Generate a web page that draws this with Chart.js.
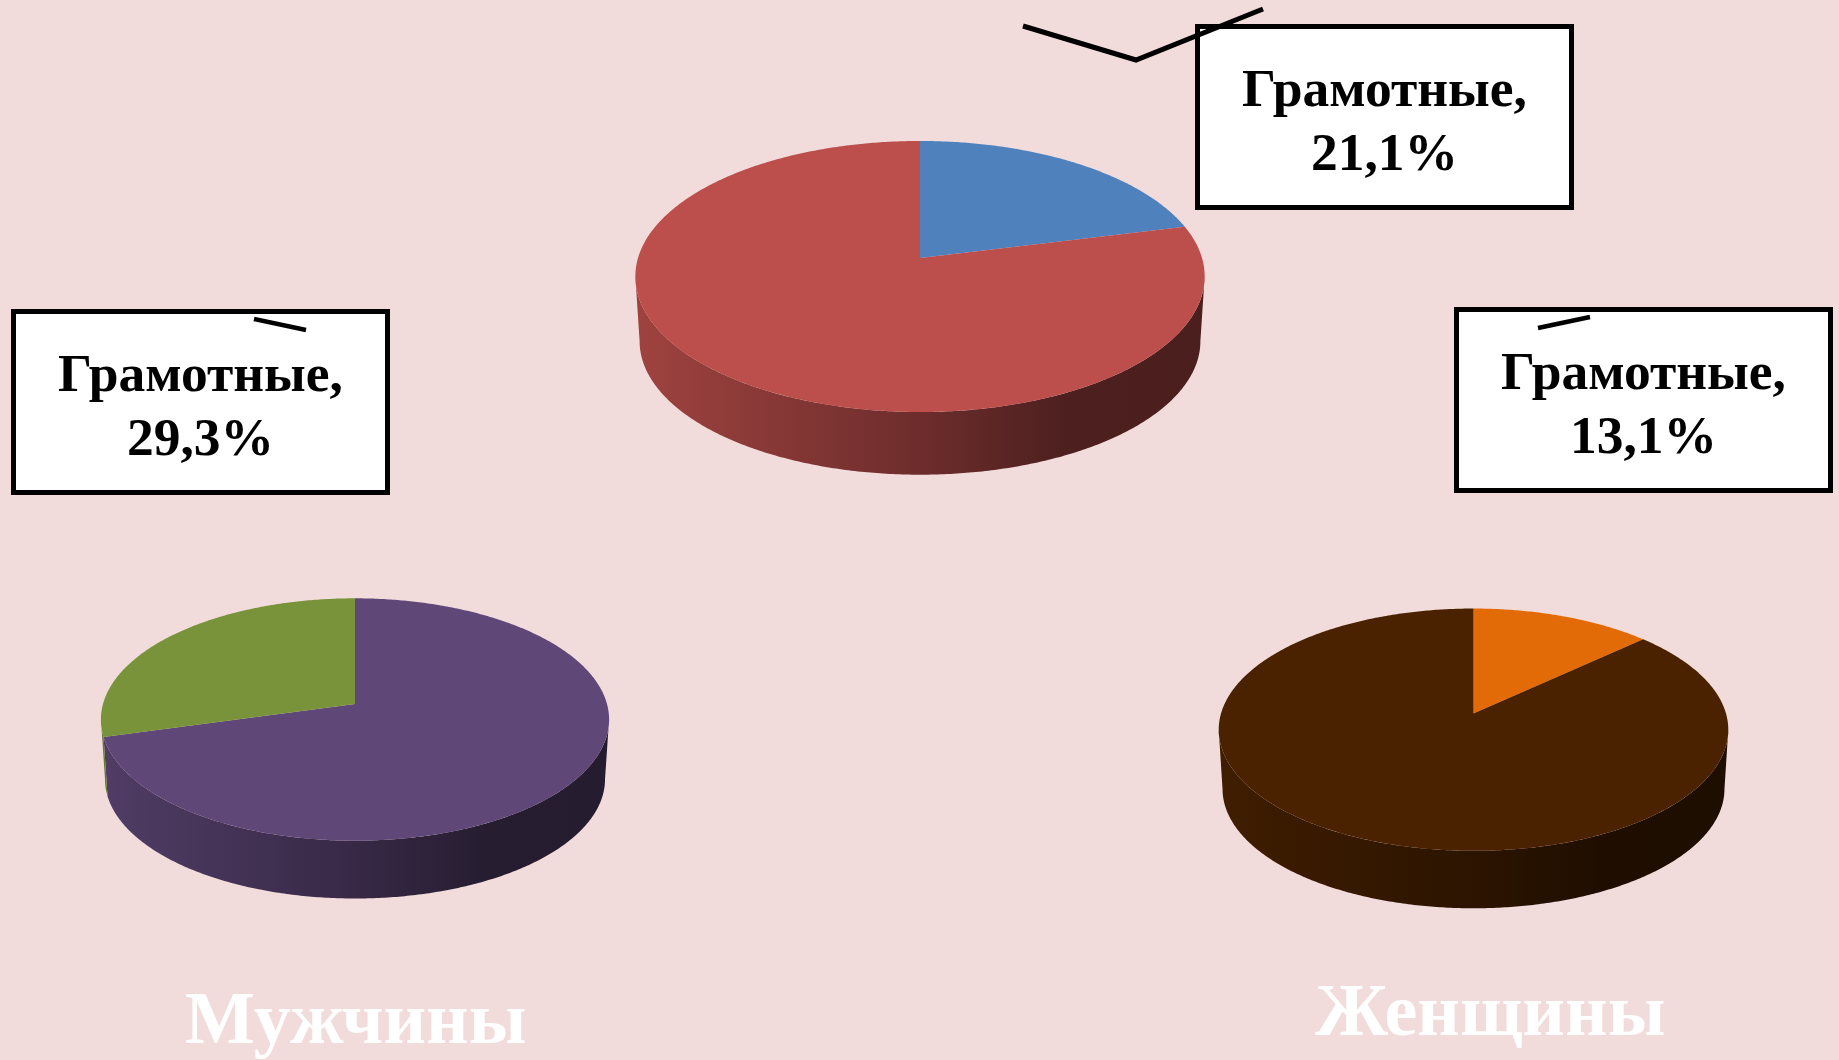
<!DOCTYPE html>
<html lang="ru">
<head>
<meta charset="utf-8">
<title>Грамотные</title>
<script src="https://cdn.jsdelivr.net/npm/chart.js@4/dist/chart.umd.min.js"></script>
<style>
    html, body { margin: 0; padding: 0; width: 1839px; height: 1060px; overflow: hidden; background: #F2DCDB; }
    canvas { position: absolute; }
    .callout {
        position: absolute; box-sizing: border-box; width: 379px; height: 186px;
        background: #fff; border: 5px solid #000; color: #000;
        font: bold 53.5px/64px "Liberation Serif", serif; text-align: center; padding-top: 27px;
    }
    .caption {
        position: absolute; color: #fff; white-space: nowrap; text-align: center;
        font: bold 74px/84px "Liberation Serif", serif;
    }
    svg { position: absolute; left: 0; top: 0; }
</style>
</head>
<body>
<canvas id="pieAll"></canvas>
<canvas id="pieMen"></canvas>
<canvas id="pieWomen"></canvas>

<div class="callout" id="calloutAll" style="left:1195px; top:24px"></div>
<div class="callout" id="calloutMen" style="left:11px; top:309px"></div>
<div class="callout" id="calloutWomen" style="left:1454px; top:307px"></div>

<div class="caption" id="captionMen" style="left:185px; top:976px; width:341px"></div>
<div class="caption" id="captionWomen" style="left:1315px; top:968px; width:349px"></div>

<svg width="1839" height="1060" fill="none" stroke="#000" stroke-width="5">
    <polyline points="1023,26 1136,60 1263,9"/>
    <line x1="254" y1="319" x2="306" y2="330" stroke-width="4.5"/>
    <line x1="1538" y1="328" x2="1590" y2="317" stroke-width="4.5"/>
</svg>

<script>
// Values (percent)
const categories = ['Грамотные', 'Неграмотные'];
const allValues = [21.1, 78.9];
const menValues = [29.3, 70.7];
const womenValues = [13.1, 86.9];

const calloutTitle = 'Грамотные,';
const menCaption = 'Мужчины';
const womenCaption = 'Женщины';

// Turn a decimal value into the label form used on the slide, e.g. 21,1%
function percentText(value) {
    return String(value).replace('.', ',') + '%';
}

document.getElementById('calloutAll').innerHTML = calloutTitle + '<br>' + percentText(allValues[0]);
document.getElementById('calloutMen').innerHTML = calloutTitle + '<br>' + percentText(menValues[0]);
document.getElementById('calloutWomen').innerHTML = calloutTitle + '<br>' + percentText(womenValues[0]);
document.getElementById('captionMen').textContent = menCaption;
document.getElementById('captionWomen').textContent = womenCaption;

const PADDING = 10;

// Project a chart angle on to the tilted disc (k gives the perspective)
function project(el, pie, angle, scale, drop) {
    const d = 1 + pie.k * Math.sin(angle);
    return [
        el.x + scale * el.outerRadius * Math.cos(angle) / d,
        el.y + drop + scale * pie.height * Math.sin(angle) / d
    ];
}

function traceCurve(ctx, el, pie, from, to, scale, drop) {
    const steps = Math.max(2, Math.ceil(Math.abs(to - from) / 0.01));
    for (let i = 0; i <= steps; i++) {
        const p = project(el, pie, from + (to - from) * i / steps, scale, drop);
        ctx.lineTo(p[0], p[1]);
    }
}

function shade(hex, factor) {
    const n = parseInt(hex.slice(1), 16);
    const r = Math.round((n >> 16) * factor);
    const g = Math.round(((n >> 8) & 255) * factor);
    const b = Math.round((n & 255) * factor);
    return `rgb(${r}, ${g}, ${b})`;
}

// Draws the library's arcs as a tilted 3D disc instead of flat circle slices
const discPlugin = {
    id: 'disc',
    beforeDatasetDraw(chart, args, opts) {
        const ctx = chart.ctx;
        const pie = opts.pie;
        const arcs = chart.getDatasetMeta(0).data;
        const wallFrom = Math.asin(-pie.k);
        const wallTo = Math.PI - wallFrom;

        // side wall first
        arcs.forEach(el => {
            const a0 = Math.max(el.startAngle, wallFrom);
            const a1 = Math.min(el.endAngle, wallTo);
            if (a1 <= a0) return;
            const halfWidth = el.outerRadius * pie.wallScale;
            const grad = ctx.createLinearGradient(el.x - halfWidth, 0, el.x + halfWidth, 0);
            const color = el.options.backgroundColor;
            grad.addColorStop(0, shade(color, 0.84));
            grad.addColorStop(0.5, shade(color, 0.58));
            grad.addColorStop(0.76, shade(color, 0.41));
            grad.addColorStop(1, shade(color, 0.4));
            ctx.beginPath();
            traceCurve(ctx, el, pie, a0, a1, 1, 0);
            traceCurve(ctx, el, pie, a1, a0, pie.wallScale, pie.depth);
            ctx.closePath();
            ctx.fillStyle = grad;
            ctx.fill();
        });

        // top face
        arcs.forEach(el => {
            ctx.beginPath();
            ctx.moveTo(el.x, el.y);
            traceCurve(ctx, el, pie, el.startAngle, el.endAngle, 1, 0);
            ctx.closePath();
            ctx.fillStyle = el.options.backgroundColor;
            ctx.fill();
        });
        return false;
    }
};

function makePie(id, values, colors, pie) {
    const canvas = document.getElementById(id);
    const size = 2 * (pie.radius + PADDING);
    canvas.width = size;
    canvas.height = size;
    canvas.style.left = (pie.cx - size / 2) + 'px';
    canvas.style.top = (pie.cy - size / 2) + 'px';
    return new Chart(canvas.getContext('2d'), {
        type: 'pie',
        data: {
            labels: categories,
            datasets: [{ data: values, backgroundColor: colors, borderWidth: 0, hoverOffset: 0 }]
        },
        options: {
            responsive: false,
            animation: false,
            layout: { padding: PADDING },
            events: [],
            plugins: {
                legend: { display: false },
                tooltip: { enabled: false },
                disc: { pie: pie }
            }
        },
        plugins: [discPlugin]
    });
}

makePie('pieAll', allValues, ['#4F81BD', '#BC4E4B'],
    { cx: 920.5, cy: 258, radius: 282.4, height: 133, k: -0.1364, wallScale: 0.985, depth: 65 });
makePie('pieMen', menValues.slice().reverse(), ['#5F4778', '#789339'],
    { cx: 354.5, cy: 704, radius: 252, height: 119.2, k: -0.128, wallScale: 0.984, depth: 60 });
makePie('pieWomen', womenValues, ['#E26B08', '#4B2200'],
    { cx: 1473.6, cy: 713.3, radius: 252.7, height: 119, k: -0.1337, wallScale: 0.985, depth: 59.5 });
</script>
</body>
</html>
